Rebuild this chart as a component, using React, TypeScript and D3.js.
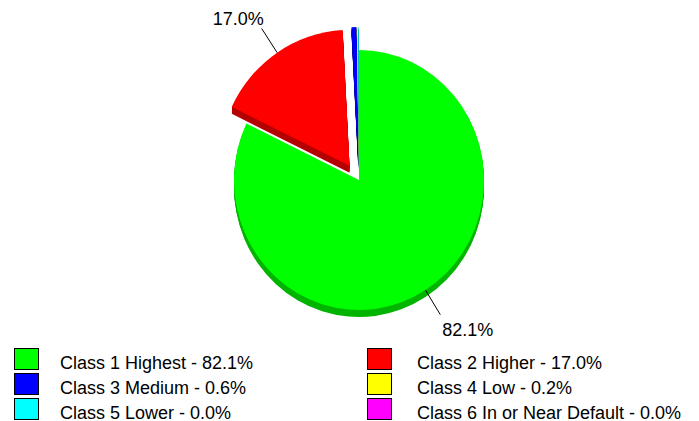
import React, { useEffect, useRef } from 'react';
import * as d3 from 'd3';

const classes = ['Class 1 Highest', 'Class 2 Higher', 'Class 3 Medium', 'Class 4 Low', 'Class 5 Lower', 'Class 6 In or Near Default'];
const shares = [82.1, 17.0, 0.6, 0.2, 0.04, 0.0];
const shareLabels = ['82.1%', '17.0%', '0.6%', '0.2%', '0.0%', '0.0%'];

const colors = ['#00ff00', '#ff0000', '#0000ff', '#ffff00', '#00ffff', '#ff00ff'];
const sideColors = ['#00b400', '#b40000', '#0000a0', '#a0a000', '#00a0a0', '#a000a0'];

function App() {
    const svgRef = useRef<SVGSVGElement>(null);

    useEffect(() => {
        const width = 699;
        const height = 421;
        const cx = 359;
        const cy = 180;
        const depth = 7;
        const font = '"Liberation Sans", Arial, sans-serif';

        const svg = d3.select(svgRef.current)
            .attr('width', width)
            .attr('height', height);
        svg.selectAll('*').remove();

        const data = classes.map((name, i) => ({ name, value: shares[i], label: shareLabels[i], i }));

        const pie = d3.pie<any>()
            .sort(null)
            .value(d => d.value);
        const arcsData = pie(data);

        // first slice stays in place, the others are pulled out a bit and look larger
        const radius = (i: number) => (i === 0 ? 130 : 136);
        const xScale = 125 / 130;
        const explode = (i: number) => (i === 0 ? 0 : 17);

        const pieG = svg.append('g');

        arcsData.forEach(a => {
            const i = a.data.i;
            if (a.endAngle - a.startAngle <= 0) return;
            const mid = (a.startAngle + a.endAngle) / 2;
            const ox = cx + explode(i) * Math.sin(mid);
            const oy = cy - explode(i) * Math.cos(mid);
            const arc = d3.arc<any>().innerRadius(0).outerRadius(radius(i));

            const slice = pieG.append('g');
            // side (thickness) of the 3D pie
            d3.range(1, depth + 1).forEach(dy => {
                slice.append('path')
                    .attr('d', arc(a))
                    .attr('transform', `translate(${ox},${oy + dy}) scale(${xScale},1)`)
                    .attr('fill', sideColors[i]);
            });
            slice.append('path')
                .attr('d', arc(a))
                .attr('transform', `translate(${ox},${oy}) scale(${xScale},1)`)
                .attr('fill', colors[i]);
        });

        // slice labels with leader lines
        arcsData.filter(a => a.data.value >= 5).forEach(a => {
            const i = a.data.i;
            const mid = (a.startAngle + a.endAngle) / 2;
            const ox = cx + explode(i) * Math.sin(mid);
            const oy = cy - explode(i) * Math.cos(mid);
            const r = radius(i);
            const x1 = ox + r * xScale * Math.sin(mid);
            const y1 = oy - r * Math.cos(mid);
            const x2 = ox + (r + 29) * xScale * Math.sin(mid);
            const y2 = oy - (r + 29) * Math.cos(mid);
            pieG.append('line')
                .attr('x1', x1).attr('y1', y1)
                .attr('x2', x2).attr('y2', y2)
                .attr('stroke', '#000')
                .attr('stroke-width', 1);
            const below = Math.cos(mid) < 0;
            pieG.append('text')
                .attr('x', x2 + 2)
                .attr('y', below ? y2 + 21 : y2 - 3)
                .attr('text-anchor', below ? 'start' : 'end')
                .style('font-family', font)
                .style('font-size', '18px')
                .attr('fill', '#000')
                .text(a.data.label);
        });

        // Add legend
        const squareX = [14, 367];
        const textX = [60, 417];
        const legend = svg.selectAll('.legend')
            .data(data)
            .enter().append('g')
            .attr('class', 'legend')
            .attr('transform', d => `translate(0,${348 + Math.floor(d.i / 2) * 25})`);

        legend.append('rect')
            .attr('x', d => squareX[d.i % 2] + 0.5)
            .attr('y', 0.5)
            .attr('width', 24)
            .attr('height', 21)
            .attr('fill', d => colors[d.i])
            .attr('stroke', '#000')
            .attr('stroke-width', 1);

        legend.append('text')
            .attr('x', d => textX[d.i % 2])
            .attr('y', 21)
            .style('font-family', font)
            .style('font-size', '18px')
            .attr('fill', '#000')
            .text(d => `${d.name} - ${d.label}`);
    }, []);

    return (
        <div style={{ position: 'absolute', left: 0, top: 0, background: '#fff' }}>
            <svg ref={svgRef} style={{ display: 'block' }}></svg>
        </div>
    );
}

export default App;
